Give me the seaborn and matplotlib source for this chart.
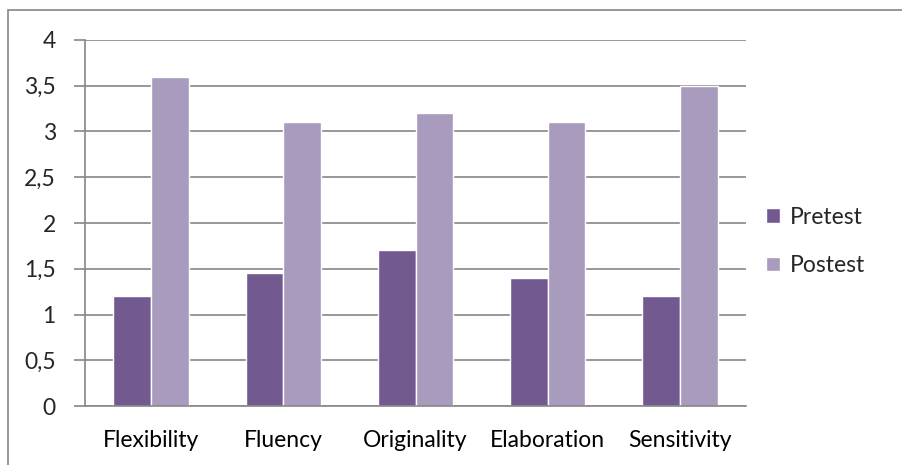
import matplotlib
matplotlib.use("Agg")
import matplotlib.pyplot as plt
import pandas as pd
import seaborn as sns
from matplotlib.patches import Rectangle
from matplotlib.ticker import FuncFormatter

categories = ["Flexibility", "Fluency", "Originality", "Elaboration", "Sensitivity"]
pretest = [1.2, 1.45, 1.7, 1.4, 1.2]
postest = [3.6, 3.1, 3.2, 3.1, 3.5]

df = pd.DataFrame({
    "Skill": categories * 2,
    "Score": pretest + postest,
    "Test": ["Pretest"] * len(categories) + ["Postest"] * len(categories),
})

sns.set_style("white")
plt.rcParams["font.family"] = ["Lato", "DejaVu Sans"]

W, H = 902, 465
fig = plt.figure(figsize=(W / 100, H / 100), dpi=100)
ax = fig.add_axes([85 / W, 1 - 406 / H, (746 - 85) / W, (406 - 40) / H])

palette = {"Pretest": "#725990", "Postest": "#A99BBD"}
sns.barplot(data=df, x="Skill", y="Score", hue="Test", palette=palette,
            width=0.57, saturation=1, ax=ax, errorbar=None)

grid_c = "#868686"
fs = 16.5
ax.set_ylim(0, 4)
ax.set_xlim(-0.5, len(categories) - 0.5)
ax.set_yticks([0, 0.5, 1, 1.5, 2, 2.5, 3, 3.5, 4])
ax.yaxis.set_major_formatter(FuncFormatter(lambda v, p: f"{v:g}".replace(".", ",")))
ax.yaxis.grid(True, color=grid_c, linewidth=1.2)
ax.set_axisbelow(True)
for s in ["top", "right"]:
    ax.spines[s].set_visible(False)
for s in ["left", "bottom"]:
    ax.spines[s].set_color(grid_c)
    ax.spines[s].set_linewidth(1.2)

# category boundary ticks on x axis
ax.set_xticks([i for i in range(len(categories))])
ax.set_xticklabels(categories)
ax.set_xticks([i - 0.5 for i in range(len(categories) + 1)], minor=True)
ax.tick_params(axis="x", which="major", length=0, pad=17, labelsize=fs, colors="black")
ax.tick_params(axis="x", which="minor", length=8, width=1.2, color=grid_c, direction="out")
ax.tick_params(axis="y", length=8, width=1.2, color=grid_c, direction="out", pad=13,
               labelsize=fs, left=True)
ax.set_xlabel("")
ax.set_ylabel("")

leg = ax.legend(loc="center left", bbox_to_anchor=(1.031, 0.45), frameon=False,
                fontsize=fs, handlelength=0.6, handleheight=0.6, handletextpad=0.4,
                labelspacing=1.2, borderaxespad=0, borderpad=0)

# outer chart border
fig.add_artist(Rectangle((8 / W, -0.1), 1.2, 1 - 10 / H + 0.1, transform=fig.transFigure,
                         fill=False, edgecolor=grid_c, linewidth=1.2))

fig.savefig("out.png", dpi=100)
